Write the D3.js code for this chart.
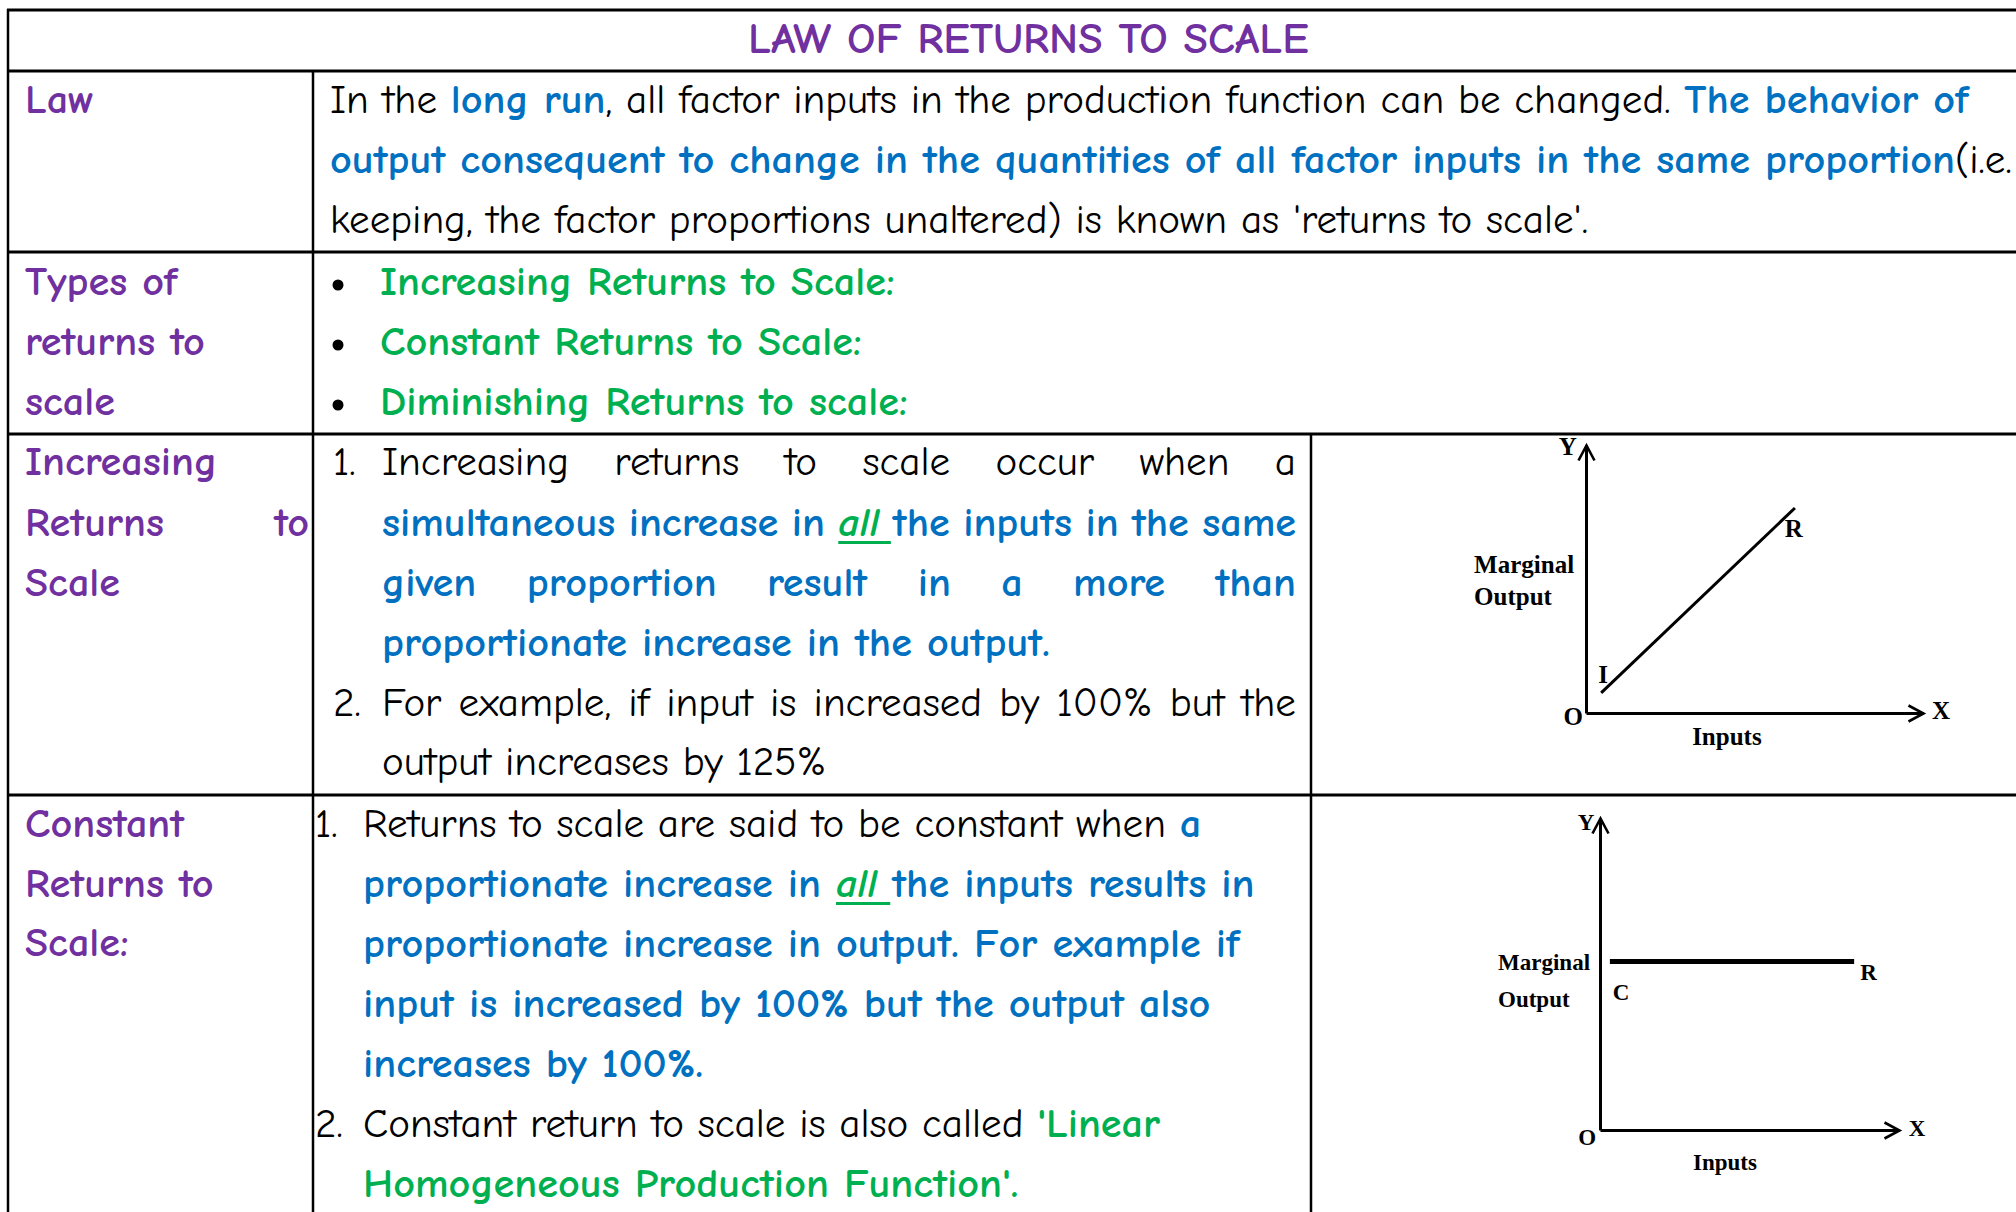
<!DOCTYPE html>
<html><head><meta charset="utf-8">
<script src="https://cdn.jsdelivr.net/npm/d3@7"></script>
<style>html,body{margin:0;padding:0;background:#fff;} svg{display:block}</style>
</head><body>
<svg id="c" width="2016" height="1212"></svg>
<script>
// ---------------- DATA ----------------
const title = "LAW OF RETURNS TO SCALE";
// style codes: k = black regular, b = blue bold, g = green bold, u = green bold italic underlined, p = purple bold
const rowLabels = [
  ["Law"],
  ["Types of", "returns to", "scale"],
  ["Increasing", "Returns to", "Scale"],
  ["Constant", "Returns to", "Scale:"]
];
const lawLines = [
  [["In the ", "k"], ["long run", "b"], [", all factor inputs in the production function can be changed. ", "k"], ["The behavior of", "b"]],
  [["output consequent to change in the quantities of all factor inputs in the same proportion", "b"], ["(i.e.", "k"]],
  [["keeping, the factor proportions unaltered) is known as 'returns to scale'.", "k"]]
];
const typeItems = ["Increasing Returns to Scale:", "Constant Returns to Scale:", "Diminishing Returns to scale:"];
const irsLines = [
  {num: "1.", justify: true, runs: [["Increasing returns to scale occur when a", "k"]]},
  {justify: true, runs: [["simultaneous increase in ", "b"], ["all", "u"], [" the inputs in the same", "b"]]},
  {justify: true, runs: [["given proportion result in a more than", "b"]]},
  {runs: [["proportionate increase in the output.", "b"]]},
  {num: "2.", justify: true, runs: [["For example, if input is increased by 100% but the", "k"]]},
  {runs: [["output increases by 125%", "k"]]}
];
const crsLines = [
  {num: "1.", runs: [["Returns to scale are said to be constant when ", "k"], ["a", "b"]]},
  {runs: [["proportionate increase in ", "b"], ["all", "u"], [" the inputs results in", "b"]]},
  {runs: [["proportionate increase in output. For example if", "b"]]},
  {runs: [["input is increased by 100% but the output also", "b"]]},
  {runs: [["increases by 100%.", "b"]]},
  {num: "2.", runs: [["Constant return to scale is also called ", "k"], ["'Linear", "g"]]},
  {runs: [["Homogeneous Production Function'.", "g"]]}
];
// diagram curves (domain units 0..10 on both axes)
const irsCurve = [{x: 0.45, y: 0.75}, {x: 6.2, y: 7.65}];
const crsCurve = [{x: 0.33, y: 5.4}, {x: 8.5, y: 5.4}];
const irsLabels = [
  {t: "Y", x: -0.27, y: 9.63, a: "end"}, {t: "X", x: 10.27, y: -0.22, a: "start"},
  {t: "O", x: -0.09, y: -0.45, a: "end"}, {t: "I", x: 0.36, y: 1.12, a: "start"},
  {t: "R", x: 5.9, y: 6.57, a: "start"}, {t: "Marginal", x: -3.32, y: 5.22, a: "start"},
  {t: "Output", x: -3.32, y: 4.03, a: "start"}, {t: "Inputs", x: 3.15, y: -1.19, a: "start"}
];
const crsLabels = [
  {t: "Y", x: -0.74, y: 9.6, a: "start"}, {t: "X", x: 10.33, y: -0.19, a: "start"},
  {t: "O", x: -0.13, y: -0.48, a: "end"}, {t: "C", x: 0.43, y: 4.17, a: "start"},
  {t: "R", x: 8.7, y: 4.8, a: "start"}, {t: "Marginal", x: -3.41, y: 5.13, a: "start"},
  {t: "Output", x: -3.41, y: 3.94, a: "start"}, {t: "Inputs", x: 3.11, y: -1.28, a: "start"}
];

// ---------------- STYLE ----------------
const PURPLE = "#7030A0", BLUE = "#0070C0", GREEN = "#00B050", BLACK = "#000";
const FONT = "'Comic Sans MS','Comic Neue','Open Sans',sans-serif";
const SERIF = "'Liberation Serif','DejaVu Serif',serif";
const FS = 41;
const STY = {
  k: {fill: BLACK, w: 400, i: "normal"},
  b: {fill: BLUE, w: 700, i: "normal"},
  g: {fill: GREEN, w: 700, i: "normal"},
  u: {fill: GREEN, w: 700, i: "italic"},
  p: {fill: PURPLE, w: 700, i: "normal"}
};

const svg = d3.select("#c");
svg.append("rect").attr("width", 2016).attr("height", 1212).attr("fill", "#fff");

const meas = svg.append("text").attr("font-family", FONT).attr("font-size", FS)
  .attr("x", 100).attr("y", 100).attr("opacity", 0);
const cache = {};
let BF = 1; // extra widening applied to bold glyphs
function rawW(t, s) {
  const key = s + "|" + t;
  if (cache[key] !== undefined) return cache[key];
  meas.attr("font-weight", STY[s].w).attr("font-style", STY[s].i).text(t);
  return (cache[key] = meas.node().getComputedTextLength());
}
function tw(t, s) { return rawW(t, s) * (STY[s].w === 700 ? BF : 1); }
function spaceW(s) { return tw("a a", s) - tw("aa", s); }

function toWords(runs) {
  const words = []; let cur = [];
  runs.forEach(([t, s]) => {
    t.split(" ").forEach((p, i) => {
      if (i > 0) { if (cur.length) words.push(cur); cur = []; }
      if (p.length) cur.push({t: p, s});
    });
  });
  if (cur.length) words.push(cur);
  return words.map(w => {
    let x = 0;
    const pcs = w.map(p => { const o = {...p, dx: x, w: tw(p.t, p.s)}; x += o.w; return o; });
    return {pcs, w: x, s: w[w.length - 1].s};
  });
}
function naturalWidth(runs) {
  const ws = toWords(runs);
  return d3.sum(ws, d => d.w) + d3.sum(ws.slice(0, -1), d => spaceW(d.s));
}
// horizontal compression so glyph widths match the reference (regular text line, bold text line)
const SX = 1258 / naturalWidth(lawLines[2]);
BF = (1625 / SX) / naturalWidth([lawLines[1][0]]);

function drawLine(parent, runs, x0, y0, width) {
  const words = toWords(runs);
  const sum = d3.sum(words, d => d.w);
  let gaps = words.slice(0, -1).map(w => spaceW(w.s));
  if (width && words.length > 1) {
    const g = (width / SX - sum) / (words.length - 1);
    gaps = gaps.map(() => g);
  }
  const g = parent.append("g").attr("transform", `translate(${x0},${y0}) scale(${SX},1)`);
  let x = 0;
  words.forEach((w, i) => { w.x = x; x += w.w + (i < gaps.length ? gaps[i] : 0); });
  words.forEach((w, i) => {
    w.pcs.forEach(p => {
      const te = g.append("text").attr("x", w.x + p.dx).attr("y", 0)
        .attr("font-family", FONT).attr("font-size", FS)
        .attr("font-weight", STY[p.s].w).attr("font-style", STY[p.s].i)
        .attr("fill", STY[p.s].fill).text(p.t);
      if (STY[p.s].w === 700) te.attr("textLength", p.w).attr("lengthAdjust", "spacingAndGlyphs");
      if (p.s === "u") {
        const xs = w.x + p.dx;
        const xe = i < words.length - 1 ? words[i + 1].x - 2 : xs + p.w;
        g.append("rect").attr("x", xs).attr("y", 5).attr("width", xe - xs).attr("height", 3).attr("fill", GREEN);
      }
    });
  });
}

// ---------------- TITLE ----------------
{
  const tt = svg.append("text").attr("font-family", FONT).attr("font-size", 42)
    .attr("font-weight", 700).attr("fill", PURPLE).text(title);
  const w = tt.node().getComputedTextLength();
  tt.attr("transform", `translate(748,53) scale(${561 / w},1)`);
}

// ---------------- TABLE GRID ----------------
const grid = svg.append("g").attr("stroke", "#000").attr("fill", "none");
const hRows = [10, 71, 252, 434, 795];
hRows.forEach(y => grid.append("line").attr("x1", 7).attr("x2", 2016).attr("y1", y).attr("y2", y).attr("stroke-width", 3));
grid.append("line").attr("x1", 8).attr("x2", 8).attr("y1", 9).attr("y2", 1212).attr("stroke-width", 2.5);
grid.append("line").attr("x1", 313).attr("x2", 313).attr("y1", 71).attr("y2", 1212).attr("stroke-width", 2.5);
grid.append("line").attr("x1", 1311).attr("x2", 1311).attr("y1", 434).attr("y2", 1212).attr("stroke-width", 2.5);

// ---------------- ROW LABELS ----------------
const labBase = [[113], [295, 355, 415], [475, 536, 596], [837, 897, 956]];
const labG = svg.append("g");
rowLabels.forEach((lines, r) => {
  lines.forEach((t, i) => {
    const justify = (r === 2 && i === 1) ? 284 : null;
    drawLine(labG, [[t, "p"]], 25, labBase[r][i], justify);
  });
});

// ---------------- LAW ROW ----------------
const body = svg.append("g");
[113, 173, 233].forEach((y, i) => drawLine(body, lawLines[i], 330, y));

// ---------------- TYPES ROW ----------------
[295, 355, 415].forEach((y, i) => {
  body.append("circle").attr("cx", 338).attr("cy", y - 10).attr("r", 5.5).attr("fill", BLACK);
  drawLine(body, [[typeItems[i], "g"]], 380, y);
});

// ---------------- IRS ROW ----------------
const irsBase = [475, 536, 596, 656, 716, 775];
irsLines.forEach((ln, i) => {
  if (ln.num) drawLine(body, [[ln.num, "k"]], 333, irsBase[i]);
  drawLine(body, ln.runs, 382, irsBase[i], ln.justify ? 1296 - 382 : null);
});

// ---------------- CRS ROW ----------------
const crsBase = [837, 897, 957, 1017, 1077, 1137, 1197];
crsLines.forEach((ln, i) => {
  if (ln.num) drawLine(body, [[ln.num, "k"]], 315, crsBase[i]);
  drawLine(body, ln.runs, 363, crsBase[i]);
});

// ---------------- DIAGRAMS ----------------
const defs = svg.append("defs");
defs.append("marker").attr("id", "arr").attr("viewBox", "0 0 20 20")
  .attr("refX", 17).attr("refY", 10).attr("markerWidth", 20).attr("markerHeight", 20)
  .attr("markerUnits", "userSpaceOnUse").attr("orient", "auto")
  .append("path").attr("d", "M2,2 L17,10 L2,18").attr("fill", "none")
  .attr("stroke", "#000").attr("stroke-width", 2.6).attr("stroke-linejoin", "miter");

function diagram(cfg) {
  const x = d3.scaleLinear().domain([0, 10]).range(cfg.xr);
  const y = d3.scaleLinear().domain([0, 10]).range(cfg.yr);
  const g = svg.append("g");
  const ax = g.append("g").attr("transform", `translate(0,${y(0)})`)
    .call(d3.axisBottom(x).ticks(0).tickSizeOuter(0));
  const ay = g.append("g").attr("transform", `translate(${x(0)},0)`)
    .call(d3.axisLeft(y).ticks(0).tickSizeOuter(0));
  [ax, ay].forEach(a => a.select(".domain").attr("stroke", "#000").attr("stroke-width", 3)
    .attr("marker-end", "url(#arr)"));
  g.append("path").datum(cfg.curve)
    .attr("d", d3.line().x(d => x(d.x)).y(d => y(d.y)))
    .attr("fill", "none").attr("stroke", "#000").attr("stroke-width", cfg.lw);
  g.selectAll("text.lab").data(cfg.labels).join("text").attr("class", "lab")
    .attr("x", d => x(d.x)).attr("y", d => y(d.y)).attr("text-anchor", d => d.a)
    .attr("font-family", SERIF).attr("font-weight", 700).attr("font-size", cfg.fs)
    .attr("fill", "#000").text(d => d.t);
}
diagram({xr: [1586, 1923], yr: [713, 445], curve: irsCurve, labels: irsLabels, fs: 25, lw: 3});
diagram({xr: [1600, 1899], yr: [1130, 818], curve: crsCurve, labels: crsLabels, fs: 23, lw: 5});

meas.remove();
</script>
</body></html>
